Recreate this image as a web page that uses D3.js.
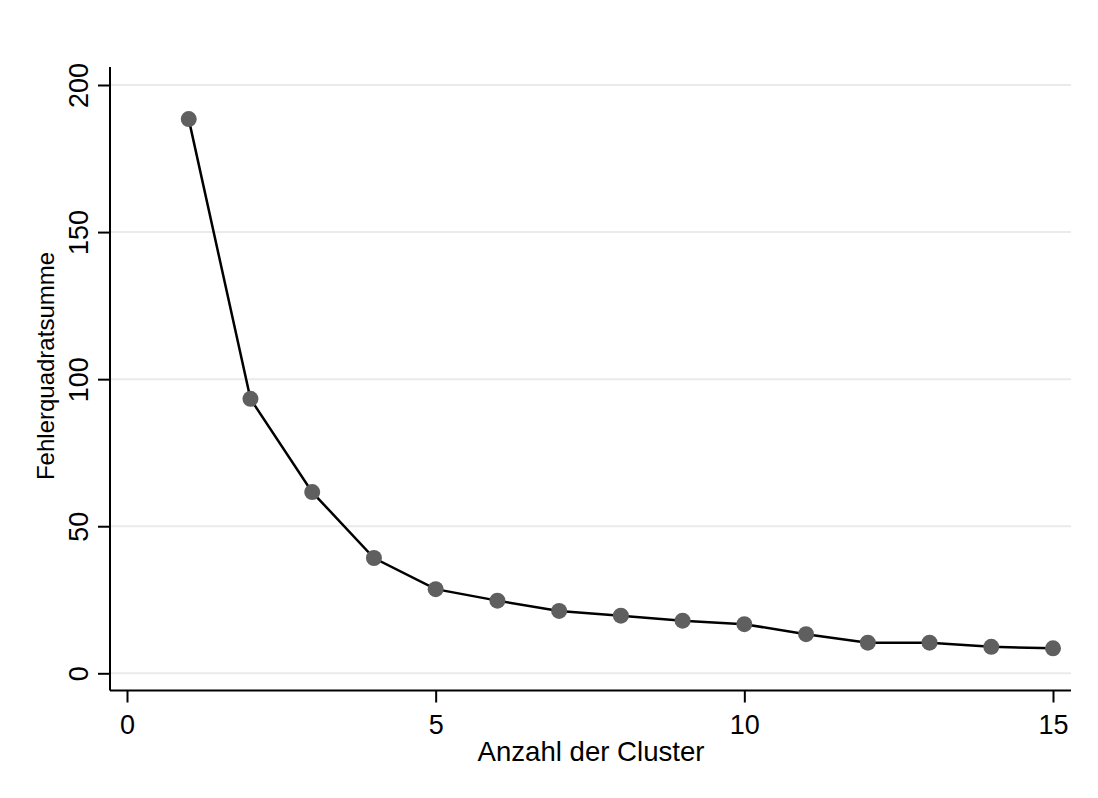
<!DOCTYPE html>
<html>
<head>
<meta charset="utf-8">
<script src="https://cdn.jsdelivr.net/npm/d3@7"></script>
<style>
  body { margin: 0; background: #fff; }
  text { font-family: "Liberation Sans", Arial, sans-serif; fill: #000; }
</style>
</head>
<body>
<svg></svg>
<script>
// number of clusters and the within-cluster sum of squares
const clusters = [1, 2, 3, 4, 5, 6, 7, 8, 9, 10, 11, 12, 13, 14, 15];
const sse = [188.4, 93.3, 61.6, 39.2, 28.6, 24.7, 21.2, 19.6, 17.9, 16.7, 13.3, 10.4, 10.4, 9.0, 8.5];
const xTicks = [0, 5, 10, 15];
const yTicks = [0, 50, 100, 150, 200];

const svg = d3.select("svg").attr("width", 1098).attr("height", 798);

// scales
const x = d3.scaleLinear().domain([0, 15]).range([127, 1053]);
const y = d3.scaleLinear().domain([0, 200]).range([673.3, 85]);

// plot region edges (axis lines run a bit past the ticks)
const axLeft = 110, axRight = 1071, axTop = 67, axBottom = 690.5;

// gridlines
svg.append("g")
  .selectAll("line")
  .data(yTicks)
  .enter()
  .append("line")
  .attr("x1", axLeft)
  .attr("x2", axRight)
  .attr("y1", (d) => y(d))
  .attr("y2", (d) => y(d))
  .attr("stroke", "#eaeaea")
  .attr("stroke-width", 2);

// y axis
const yAxis = svg.append("g").attr("transform", `translate(${axLeft},0)`)
  .call(d3.axisLeft(y).tickValues(yTicks).tickSize(12).tickSizeOuter(0));
yAxis.select(".domain").remove();
yAxis.append("line")
  .attr("y1", axTop).attr("y2", axBottom)
  .attr("stroke", "#000").attr("stroke-width", 2);
yAxis.selectAll(".tick line").attr("stroke", "#000").attr("stroke-width", 2);
yAxis.selectAll(".tick text")
  .attr("x", null).attr("dy", null)
  .attr("transform", "translate(-22,0) rotate(-90)")
  .attr("text-anchor", "middle")
  .style("font-size", "27px")
  .attr("fill", "#000");

// x axis
const xAxis = svg.append("g").attr("transform", `translate(0,${axBottom})`)
  .call(d3.axisBottom(x).tickValues(xTicks).tickSize(12).tickSizeOuter(0));
xAxis.select(".domain").remove();
xAxis.append("line")
  .attr("x1", axLeft).attr("x2", axRight)
  .attr("stroke", "#000").attr("stroke-width", 2);
xAxis.selectAll(".tick line").attr("stroke", "#000").attr("stroke-width", 2);
xAxis.selectAll(".tick text")
  .attr("y", 43.5)
  .attr("dy", null)
  .style("font-size", "27px")
  .attr("fill", "#000");

// axis titles
svg.append("text")
  .attr("x", 591)
  .attr("y", 761)
  .attr("text-anchor", "middle")
  .style("font-size", "27.6px")
  .text("Anzahl der Cluster");

svg.append("text")
  .attr("transform", "translate(54,366) rotate(-90)")
  .attr("text-anchor", "middle")
  .style("font-size", "24px")
  .text("Fehlerquadratsumme");

// line + points
const pts = clusters.map((c, i) => [c, sse[i]]);
const line = d3.line().x((d) => x(d[0])).y((d) => y(d[1]));

svg.append("path")
  .datum(pts)
  .attr("d", line)
  .attr("fill", "none")
  .attr("stroke", "#000")
  .attr("stroke-width", 2.5);

svg.append("g")
  .selectAll("circle")
  .data(pts)
  .enter()
  .append("circle")
  .attr("cx", (d) => x(d[0]))
  .attr("cy", (d) => y(d[1]))
  .attr("r", 8)
  .attr("fill", "#5f5f5f");
</script>
</body>
</html>
